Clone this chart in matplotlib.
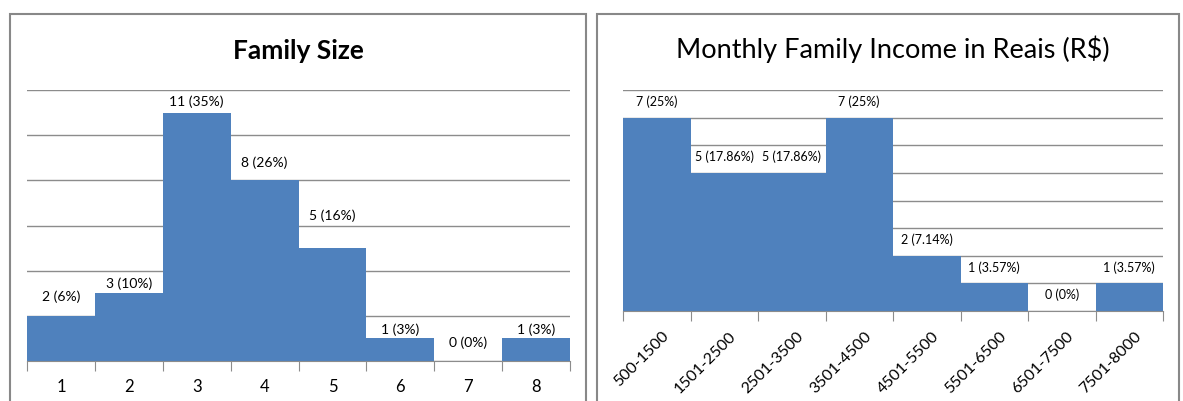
import numpy as np
import matplotlib
matplotlib.use("Agg")
import matplotlib.pyplot as plt
from matplotlib.patches import Rectangle
from matplotlib.transforms import ScaledTranslation

plt.rcParams['font.family'] = ['Lato', 'DejaVu Sans']

# datos
tamano = ['1', '2', '3', '4', '5', '6', '7', '8']
familias = [2, 3, 11, 8, 5, 1, 0, 1]
pct_tamano = ['6%', '10%', '35%', '26%', '16%', '3%', '0%', '3%']

ingreso = ['500-1500', '1501-2500', '2501-3500', '3501-4500',
           '4501-5500', '5501-6500', '6501-7500', '7501-8000']
fam_ingreso = [7, 5, 5, 7, 2, 1, 0, 1]
pct_ingreso = ['25%', '17.86%', '17.86%', '25%', '7.14%', '3.57%', '0%', '3.57%']

# separacion de las etiquetas sobre cada barra (pixeles) en el grafico izquierdo
sep_izq = [19, 10, 11, 18, 32, 9, 18, 9]

AZUL = '#4F81BD'
GRIS = '#8C8C8C'
W, H = 1183, 401

fig = plt.figure(figsize=(W / 100, H / 100), dpi=100)

# marcos de cada panel
fig.patches.append(Rectangle((10 / W, -0.1), 576 / W, 1.1 - 14 / H, transform=fig.transFigure,
                             fill=False, edgecolor='#888888', linewidth=1.5))
fig.patches.append(Rectangle((597 / W, -0.1), 582 / W, 1.1 - 14 / H, transform=fig.transFigure,
                             fill=False, edgecolor='#888888', linewidth=1.5))


def histograma(ax, cats, vals, ymax, paso):
    x = np.arange(len(cats))
    ax.bar(x, vals, width=1.0, color=AZUL, zorder=2)
    ax.set_xlim(-0.5, len(cats) - 0.5)
    ax.set_ylim(0, ymax)
    ax.set_yticks(np.arange(0, ymax + 1, paso))
    ax.yaxis.grid(True, color=GRIS, linewidth=1)
    ax.set_axisbelow(True)
    ax.tick_params(axis='y', left=False, labelleft=False)
    for s in ['top', 'right', 'left']:
        ax.spines[s].set_visible(False)
    ax.spines['bottom'].set_color(GRIS)
    ax.set_xticks(np.arange(-0.5, len(cats)), [''] * (len(cats) + 1))
    ax.tick_params(axis='x', which='major', length=7, color=GRIS, direction='out')
    ax.set_xticks(x, cats, minor=True)
    ax.tick_params(axis='x', which='minor', length=0)
    return x


# grafico izquierdo
ax1 = fig.add_axes([27 / W, 40 / H, 543 / W, 271 / H])
x1 = histograma(ax1, tamano, familias, 12, 2)
ax1.tick_params(axis='x', which='minor', labelsize=12, pad=13)
for i, v in enumerate(familias):
    ax1.annotate(f'{v} ({pct_tamano[i]})', (x1[i], v), xytext=(0, sep_izq[i] * 0.72),
                 textcoords='offset points', ha='center', va='center', fontsize=10)
fig.text(298.5 / W, 1 - 59 / H, 'Family Size', ha='center', va='baseline',
         fontsize=19, fontweight='bold')

# grafico derecho
ax2 = fig.add_axes([623 / W, 90 / H, 540 / W, 221 / H])
x2 = histograma(ax2, ingreso, fam_ingreso, 8, 1)
ax2.tick_params(axis='x', which='minor', labelsize=11.5, pad=13)
desplaza = ScaledTranslation(5 / 100, 0, fig.dpi_scale_trans)
for lbl in ax2.get_xticklabels(minor=True):
    lbl.set_rotation(45)
    lbl.set_ha('right')
    lbl.set_rotation_mode('anchor')
    lbl.set_transform(lbl.get_transform() + desplaza)
for i, v in enumerate(fam_ingreso):
    ax2.annotate(f'{v} ({pct_ingreso[i]})', (x2[i], v), xytext=(0, 16 * 0.72),
                 textcoords='offset points', ha='center', va='center', fontsize=9)
fig.text(893 / W, 1 - 58 / H, 'Monthly Family Income in Reais (R$)', ha='center',
         va='baseline', fontsize=19.5)

fig.savefig('out.png', dpi=100)
